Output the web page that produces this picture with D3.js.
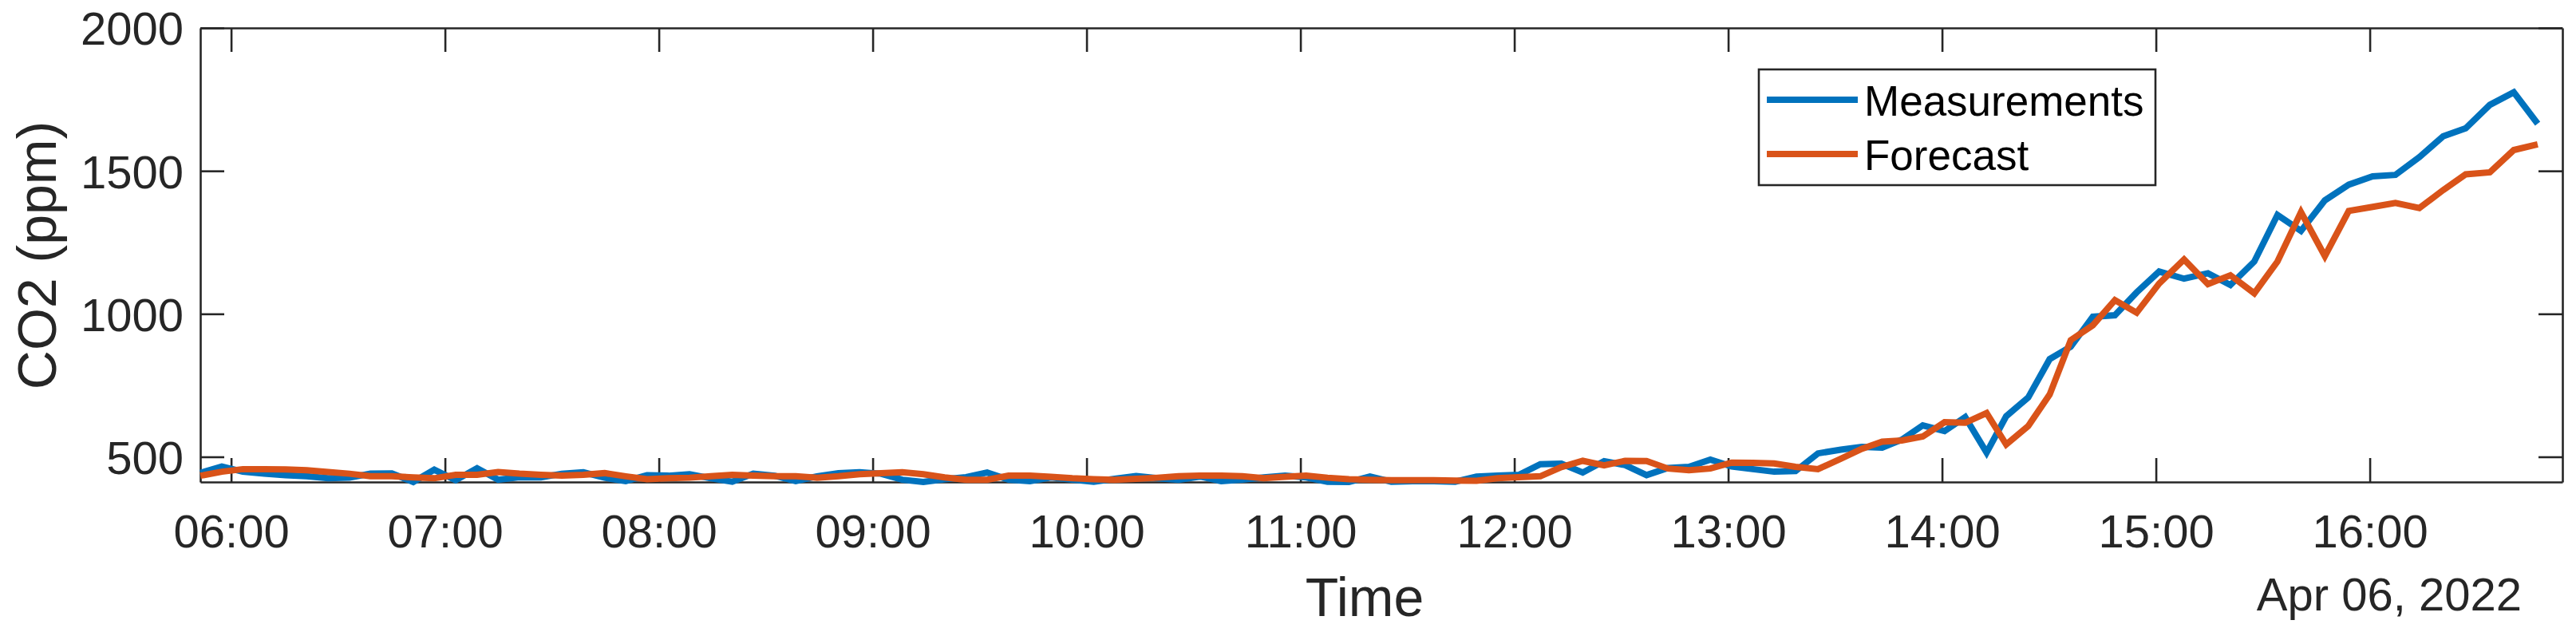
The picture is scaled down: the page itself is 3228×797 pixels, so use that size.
<!DOCTYPE html>
<html>
<head>
<meta charset="utf-8">
<script src="https://cdn.jsdelivr.net/npm/d3@7"></script>
<style>
  html, body { margin: 0; padding: 0; background: #ffffff; }
  svg { display: block; }
  text { font-family: "Liberation Sans", Arial, Helvetica, sans-serif; }
</style>
</head>
<body>
<svg id="chart" width="3228" height="797"></svg>
<script>
// ---- data (time in minutes after midnight, 06 Apr 2022) ----
const timeMin = [
  351.4, 357.4, 363.3, 369.3, 375.3, 381.2, 387.2, 393.2, 399.1, 405.1,
  411.1, 417.0, 423.0, 429.0, 434.9, 440.9, 446.9, 452.8, 458.8, 464.8,
  470.7, 476.7, 482.7, 488.6, 494.6, 500.6, 506.5, 512.5, 518.4, 524.4,
  530.4, 536.3, 542.3, 548.3, 554.2, 560.2, 566.2, 572.1, 578.1, 584.1,
  590.0, 596.0, 602.0, 607.9, 613.9, 619.9, 625.8, 631.8, 637.8, 643.7,
  649.7, 655.7, 661.6, 667.6, 673.6, 679.5, 685.5, 691.5, 697.4, 703.4,
  709.4, 715.3, 721.3, 727.3, 733.2, 739.2, 745.2, 751.1, 757.1, 763.1,
  769.0, 775.0, 781.0, 786.9, 792.9, 798.9, 805.2, 811.6, 817.5, 823.2,
  828.7, 834.6, 840.7, 846.5, 852.5, 858.0, 864.2, 870.2, 876.1, 882.3,
  888.5, 894.6, 900.9, 907.9, 914.6, 920.9, 927.6, 934.1, 940.7, 947.4,
  954.1, 960.8, 967.2, 973.9, 980.6, 986.9, 993.7, 1000.4, 1007.1
];
const measurements = [
  444, 466, 448, 441, 436, 432, 425, 427, 441, 442,
  412, 455, 418, 460, 420, 429, 428, 441, 446, 427,
  415, 436, 434, 439, 425, 413, 441, 434, 415, 432,
  443, 446, 441, 420, 412, 422, 429, 445, 420, 415,
  428, 420, 413, 423, 433, 425, 420, 431, 415, 420,
  428, 434, 428, 413, 412, 431, 413, 415, 415, 413,
  431, 434, 437, 474, 476, 445, 485, 471, 436, 461,
  465, 490, 466, 457, 448, 450, 512, 525, 535, 532,
  560, 610, 590, 639, 515, 642, 708, 842, 885, 990,
  995, 1075, 1148, 1123, 1142, 1101, 1183, 1346, 1290, 1397,
  1452, 1481, 1486, 1548, 1621, 1649, 1731, 1775, 1665
];
const forecast = [
  434, 448, 457, 457, 456, 453, 447, 441, 432, 432,
  428, 425, 437, 437, 447, 441, 437, 434, 437, 443,
  432, 422, 425, 427, 432, 437, 434, 432, 432, 427,
  432, 439, 443, 446, 439, 428, 420, 420, 434, 434,
  430, 425, 422, 420, 423, 427, 432, 434, 434, 432,
  425, 430, 434, 427, 422, 420, 418, 418, 418, 417,
  416, 425, 429, 432, 464, 486, 470, 486, 485, 459,
  453, 459, 480, 479, 477, 465, 457, 493, 528, 553,
  557, 571, 621, 619, 653, 543, 608, 718, 908, 960,
  1048, 1004, 1106, 1190, 1104, 1135, 1072, 1183, 1356, 1202,
  1360, 1374, 1388, 1370, 1433, 1488, 1495, 1573, 1593
];
const seriesNames = ["Measurements", "Forecast"];
const seriesColors = ["#0072BD", "#D95319"];
const yTickValues = [500, 1000, 1500, 2000];
const xDomainMin = [351.36, 1014.05];
const yDomain = [412, 2000];
const xLabel = "Time";
const yLabel = "CO2 (ppm)";
const dateLabel = "Apr 06, 2022";

// ---- layout ----
const L = 251, R = 3211, T = 35, B = 604;
const axisColor = "#262626";
const base = new Date(2022, 3, 6, 0, 0, 0);
const toDate = m => new Date(base.getTime() + m * 60000);

const svg = d3.select("#chart");
svg.append("rect").attr("width", 3228).attr("height", 797).attr("fill", "#fff");

const x = d3.scaleTime().domain(xDomainMin.map(toDate)).range([L, R]);
const y = d3.scaleLinear().domain(yDomain).range([B, T]);
const hourTicks = d3.timeHour.every(1).range(toDate(xDomainMin[0]), toDate(xDomainMin[1]));

function styleAxis(g) {
  g.attr("color", axisColor);
  g.selectAll("path.domain").attr("stroke-width", 2.6);
  g.selectAll(".tick line").attr("stroke-width", 2.6);
}

// bottom axis
const gx = svg.append("g").attr("transform", `translate(0,${B})`)
  .call(d3.axisBottom(x).tickValues(hourTicks).tickFormat(d3.timeFormat("%H:%M"))
    .tickSizeInner(-30).tickSizeOuter(0));
styleAxis(gx);
gx.selectAll(".tick text").attr("y", 82).attr("dy", null)
  .attr("font-size", 58).attr("font-family", "Liberation Sans, Arial, sans-serif").attr("fill", axisColor);

// top axis
const gxt = svg.append("g").attr("transform", `translate(0,${T})`)
  .call(d3.axisTop(x).tickValues(hourTicks).tickFormat("").tickSizeInner(-30).tickSizeOuter(0));
styleAxis(gxt);

// left axis
const gy = svg.append("g").attr("transform", `translate(${L},0)`)
  .call(d3.axisLeft(y).tickValues(yTickValues).tickFormat(d3.format("d"))
    .tickSizeInner(-30).tickSizeOuter(0));
styleAxis(gy);
gy.selectAll(".tick text").attr("x", -21).attr("dy", "0.36em")
  .attr("font-size", 58).attr("font-family", "Liberation Sans, Arial, sans-serif").attr("fill", axisColor);

// right axis
const gyr = svg.append("g").attr("transform", `translate(${R},0)`)
  .call(d3.axisRight(y).tickValues(yTickValues).tickFormat("").tickSizeInner(-30).tickSizeOuter(0));
styleAxis(gyr);

// axis labels
svg.append("text").attr("x", 1710).attr("y", 772).attr("text-anchor", "middle")
  .attr("font-size", 68).attr("fill", axisColor).text(xLabel);
svg.append("text").attr("transform", "translate(70,320) rotate(-90)").attr("text-anchor", "middle")
  .attr("font-size", 68).attr("fill", axisColor).text(yLabel);
svg.append("text").attr("x", 3160).attr("y", 765).attr("text-anchor", "end")
  .attr("font-size", 58).attr("fill", axisColor).text(dateLabel);

// data lines
const series = [measurements, forecast];
const line = d3.line().x(d => x(toDate(d[0]))).y(d => y(d[1]));
series.forEach((vals, i) => {
  const pts = timeMin.map((t, j) => [t, vals[j]]);
  svg.append("path").datum(pts)
    .attr("fill", "none").attr("stroke", seriesColors[i])
    .attr("stroke-width", 8).attr("stroke-linejoin", "miter").attr("stroke-miterlimit", 4)
    .attr("d", line);
});

// legend
const lg = svg.append("g");
lg.append("rect").attr("x", 2204).attr("y", 87).attr("width", 497).attr("height", 145)
  .attr("fill", "#fff").attr("stroke", axisColor).attr("stroke-width", 2.6);
const rowY = [125, 193];
seriesNames.forEach((name, i) => {
  lg.append("line").attr("x1", 2214).attr("x2", 2328).attr("y1", rowY[i]).attr("y2", rowY[i])
    .attr("stroke", seriesColors[i]).attr("stroke-width", 8);
  lg.append("text").attr("x", 2336).attr("y", rowY[i] + 20).attr("font-size", 53)
    .attr("fill", "#000").text(name);
});
</script>
</body>
</html>
